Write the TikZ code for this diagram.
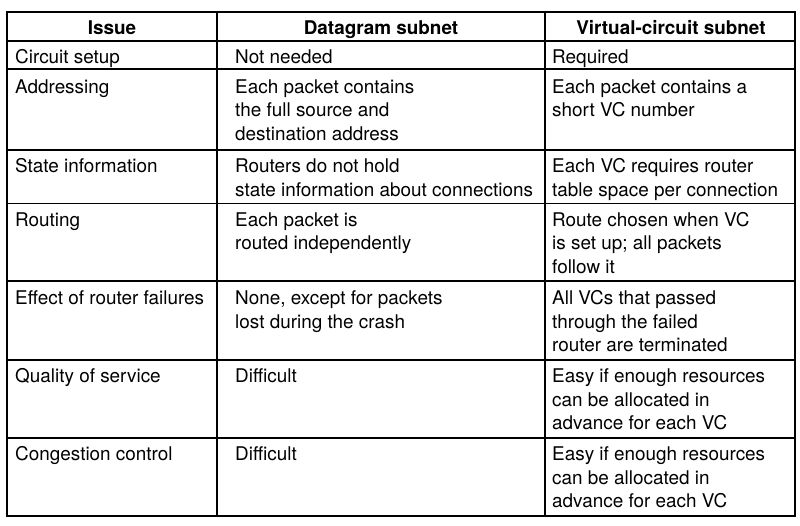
\documentclass[tikz,border=0pt]{standalone}
\usepackage{fontspec}
\setmainfont{TeX Gyre Heros}
\newcommand\tabline[4]{\node[txt] (#1) at (#2,#3) {#4};}
\begin{document}
\begin{tikzpicture}[x=1pt,y=-1pt,
  txt/.style={inner sep=0pt, anchor=base west, font=\fontsize{18.9}{23.7}\selectfont},
  hd/.style={inner sep=0pt, anchor=base, font=\fontsize{18.9}{23.7}\selectfont\bfseries},
  gridline/.style={line width=1.6pt}]
\useasboundingbox (0,0) rectangle (800,525);
\fill[white] (0,0) rectangle (800,525);
% grid
\draw[gridline] (7,12) rectangle (795,516);
\foreach \y in {41,69,150,203.5,281,360,438} \draw[gridline] (7,\y) -- (795,\y);
\foreach \x in {217,545} \draw[gridline] (\x,12) -- (\x,516);
% header
\node[hd] (h1) at (112,34.5) {Issue};
\node[hd] (h2) at (381,34.5) {Datagram subnet};
\node[hd] (h3) at (671,34.5) {Virtual-circuit subnet};
% row 1
\tabline{a1}{15}{63.5}{Circuit setup}
\tabline{b1}{235}{63.5}{Not needed}
\tabline{c1}{552}{63.5}{Required}
% row 2
\tabline{a2}{15}{93}{Addressing}
\tabline{b2a}{235}{93}{Each packet contains}
\tabline{b2b}{235}{116.7}{the full source and}
\tabline{b2c}{235}{140.4}{destination address}
\tabline{c2a}{552}{93}{Each packet contains a}
\tabline{c2b}{552}{116.7}{short VC number}
% row 3
\tabline{a3}{15}{172.5}{State information}
\tabline{b3a}{235}{172.5}{Routers do not hold}
\tabline{b3b}{235}{196.2}{state information about connections}
\tabline{c3a}{552}{172.5}{Each VC requires router}
\tabline{c3b}{552}{196.2}{table space per connection}
% row 4
\tabline{a4}{15}{226}{Routing}
\tabline{b4a}{235}{226}{Each packet is}
\tabline{b4b}{235}{249.7}{routed independently}
\tabline{c4a}{552}{226}{Route chosen when VC}
\tabline{c4b}{552}{249.7}{is set up; all packets}
\tabline{c4c}{552}{273.4}{follow it}
% row 5
\tabline{a5}{15}{304.5}{Effect of router failures}
\tabline{b5a}{235}{304.5}{None, except for packets}
\tabline{b5b}{235}{328.2}{lost during the crash}
\tabline{c5a}{552}{304.5}{All VCs that passed}
\tabline{c5b}{552}{328.2}{through the failed}
\tabline{c5c}{552}{351.9}{router are terminated}
% row 6
\tabline{a6}{15}{382.5}{Quality of service}
\tabline{b6}{235}{382.5}{Difficult}
\tabline{c6a}{552}{382.5}{Easy if enough resources}
\tabline{c6b}{552}{406.2}{can be allocated in}
\tabline{c6c}{552}{429.9}{advance for each VC}
% row 7
\tabline{a7}{15}{460.5}{Congestion control}
\tabline{b7}{235}{460.5}{Difficult}
\tabline{c7a}{552}{460.5}{Easy if enough resources}
\tabline{c7b}{552}{484.2}{can be allocated in}
\tabline{c7c}{552}{507.9}{advance for each VC}
\end{tikzpicture}
\end{document}
